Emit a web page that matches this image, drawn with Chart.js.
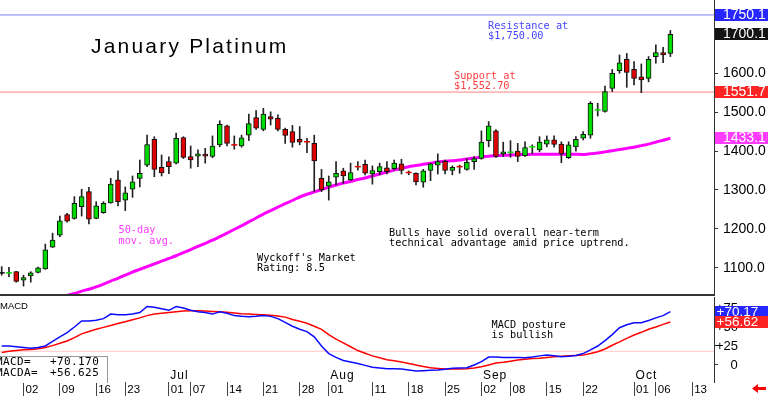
<!DOCTYPE html>
<html>
<head>
<meta charset="utf-8">
<script src="https://cdn.jsdelivr.net/npm/chart.js@4.4.1/dist/chart.umd.min.js"></script>
<style>
  html, body { margin: 0; padding: 0; background: #fff; }
  #wrap { position: relative; width: 768px; height: 396px; overflow: hidden; background: #fff; }
  .pane { position: absolute; left: 0; width: 768px; }
  .title { position: absolute; font-family: "Liberation Sans", Arial, sans-serif; font-size: 21px;
           line-height: 21px; letter-spacing: 2.2px; color: #000; white-space: pre; }
  .note { position: absolute; font-family: "DejaVu Sans Mono", monospace; font-size: 10.25px;
          line-height: 10.6px; color: #000; white-space: pre; }
  .boxtxt { position: absolute; font-family: "DejaVu Sans Mono", monospace; font-size: 11px;
            line-height: 10.7px; letter-spacing: 0.4px; color: #000; white-space: pre; }
</style>
</head>
<body>
<div id="wrap">
  <div class="pane" style="top:0;height:296px"><canvas id="priceChart"></canvas></div>
  <div class="pane" style="top:296px;height:100px"><canvas id="macdChart"></canvas></div>

  <div class="title" style="left:91px;top:35px">January Platinum</div>
  <div class="note" style="left:488px;top:19.5px;color:#4646ff">Resistance at
$1,750.00</div>
  <div class="note" style="left:454px;top:69.5px;color:#ff3c3c">Support at
$1,552.70</div>
  <div class="note" style="left:118.5px;top:224px;color:#ff3cff">50-day
mov. avg.</div>
  <div class="note" style="left:257px;top:251.5px">Wyckoff's Market
Rating: 8.5</div>
  <div class="note" style="left:389px;top:226.5px">Bulls have solid overall near-term
technical advantage amid price uptrend.</div>
  <div class="note" style="left:491.5px;top:318.5px">MACD posture
is bullish</div>

  <div style="position:absolute;left:0;top:300px;font-family:'Liberation Sans',Arial,sans-serif;font-size:9.5px;line-height:11px">MACD</div>
  <div style="position:absolute;left:-1px;top:356px;width:107px;height:26px;border:1px solid #999;border-bottom:none;background:#fff"></div>
  <div class="boxtxt" style="left:-4px;top:357px">MACD=
MACDA=</div>
  <div class="boxtxt" style="left:50px;top:357px">+70.170
+56.625</div>
</div>

<script>
/* ── DATA ─────────────────────────────────────────────── */
// trading days (MM-DD), May 28 .. Oct 16
const dates = [
  "05-28","05-29","05-30",
  "06-02","06-03","06-04","06-05","06-06","06-09","06-10","06-11","06-12","06-13",
  "06-16","06-17","06-18","06-20","06-23","06-24","06-25","06-26","06-27","06-30",
  "07-01","07-02","07-03","07-07","07-08","07-09","07-10","07-11","07-14","07-15",
  "07-16","07-17","07-18","07-21","07-22","07-23","07-24","07-25","07-28","07-29",
  "07-30","07-31",
  "08-01","08-04","08-05","08-06","08-07","08-08","08-11","08-12","08-13","08-14",
  "08-15","08-18","08-19","08-20","08-21","08-22","08-25","08-26","08-27","08-28",
  "08-29",
  "09-02","09-03","09-04","09-05","09-08","09-09","09-10","09-11","09-12","09-15",
  "09-16","09-17","09-18","09-19","09-22","09-23","09-24","09-25","09-26","09-29",
  "09-30",
  "10-01","10-02","10-03","10-06","10-07","10-08","10-09","10-10","10-13","10-14",
  "10-15","10-16"
];

const tickDates  = ["06-02","06-09","06-16","06-23","07-01","07-07","07-14","07-21","07-28",
                    "08-01","08-11","08-18","08-25","09-02","09-08","09-15","09-22",
                    "10-01","10-06","10-13"];
const monthDates = ["07-01","08-01","09-02","10-01"];
const monthNames = ["Jul","Aug","Sep","Oct"];

const open = [1087,1086,1090,1068,1079,1088,1097,1153,1184,1237,
              1227,1257,1296,1227,1242,1267,1326,1274,1302,1330,
              1364,1430,1358,1373,1369,1435,1386,1387,1392,1386,
              1416,1465,1417,1413,1441,1486,1456,1489,1484,1456,
              1450,1431,1425,1420,1330,1310,1333,1349,1326,1361,
              1366,1341,1347,1357,1355,1367,1346,1343,1320,1350,
              1364,1374,1350,1361,1353,1373,1381,1427,1452,1393,
              1396,1400,1388,1410,1403,1418,1429,1418,1383,1411,
              1433,1441,1505,1502,1561,1607,1636,1610,1591,1587,
              1643,1653,1651];
const high = [1103,1101,1091,1081,1090,1102,1161,1189,1233,1240,
              1283,1302,1307,1270,1270,1330,1349,1308,1336,1377,
              1441,1437,1390,1385,1446,1437,1413,1403,1407,1439,
              1478,1467,1439,1441,1495,1504,1510,1501,1493,1459,
              1466,1463,1433,1441,1353,1336,1373,1356,1369,1373,
              1377,1362,1369,1373,1377,1379,1349,1344,1353,1369,
              1393,1377,1362,1364,1381,1386,1452,1476,1455,1423,
              1427,1420,1424,1416,1437,1439,1439,1424,1424,1437,
              1450,1527,1523,1567,1610,1647,1651,1630,1624,1643,
              1673,1667,1710];
const low = [1081,1077,1063,1053,1063,1087,1096,1152,1180,1217,
             1225,1233,1213,1226,1240,1266,1259,1247,1281,1308,
             1360,1334,1336,1342,1367,1381,1356,1360,1369,1383,
             1411,1413,1405,1410,1427,1456,1452,1467,1452,1420,
             1410,1416,1396,1296,1296,1274,1313,1317,1324,1351,
             1339,1315,1339,1341,1351,1341,1339,1313,1307,1324,
             1341,1341,1339,1343,1351,1353,1379,1411,1384,1386,
             1384,1373,1386,1393,1398,1411,1410,1370,1381,1400,
             1429,1433,1490,1500,1553,1600,1564,1570,1550,1578,
             1626,1627,1643];
const close = [1087,1088,1065,1075,1087,1100,1146,1171,1221,1220,
               1266,1283,1225,1259,1266,1315,1270,1293,1321,1343,
               1417,1353,1344,1360,1433,1384,1377,1393,1387,1413,
               1469,1420,1415,1434,1471,1459,1495,1482,1456,1440,
               1422,1423,1423,1375,1300,1321,1343,1336,1345,1359,
               1343,1350,1360,1347,1369,1350,1344,1321,1349,1367,
               1373,1350,1358,1359,1371,1381,1423,1465,1386,1398,
               1398,1386,1409,1412,1423,1429,1417,1393,1416,1430,
               1443,1523,1507,1553,1600,1627,1602,1587,1583,1636,
               1653,1647,1700.1];

// 50-day moving average
const ma50 = [984,989,994,999,1004,1009,1014,1019,1024,1029,
              1034,1040,1045,1051,1058,1066,1073,1081,1089,1096,
              1103,1110,1117,1124,1131,1139,1147,1155,1163,1171,
              1180,1189,1199,1208,1218,1228,1238,1247,1256,1265,
              1273,1282,1289,1295,1301,1307,1313,1318,1322,1327,
              1331,1336,1341,1346,1351,1356,1360,1363,1366,1369,
              1372,1374,1375,1377,1380,1382,1385,1387,1388,1389,
              1390,1391,1391,1392,1392,1392,1392,1392,1392,1392,
              1391,1393,1395,1398,1401,1404,1407,1410,1414,1418,
              1423,1428,1433.1];

const macd = [25,25,24,23,22,23,25,31,37,42.5,
              50,58,58,59,61,67,66,66,67,69,
              77,76,74,72,77,75,72,70,69,67,
              70,68,65,64,63.5,64,65,64,61,56,
              51,47,44,37,25,15,10,6,4,2,
              -0.5,-3,-4,-5,-5,-5.3,-6.5,-8,-7.5,-7,
              -6.5,-5.5,-4.4,-4,-3.5,0,4.5,10.5,10.5,10,
              10,9.8,9.6,10.5,12,13,12,11,11.5,12.5,
              15,20,25,32,40,49,53,55.7,55.7,58.5,
              62,65,70.17];
const macdAvg = [16.5,18,19,20,20.5,21.5,23,25.5,28.5,31.6,
                 36,41,44,47,49.5,52,54.5,57,59.5,62,
                 65,67,68,69,70,71,71.5,71.5,71,70.5,
                 70,69.5,68.5,67.5,67,66.5,66,65.5,64.5,63,
                 60,57.5,55,51,47,40,34,29,24,19,
                 15.5,12,9.5,7,5.5,4,2,0,-2,-3.5,
                 -4.5,-5.3,-5.3,-5.3,-5,-4,-2.2,0,2.5,3.5,
                 5,6.6,7.5,8.5,9,10,11,11.5,12,12.5,
                 13,15,17.5,21,26,30.5,35,39.5,43,47,
                 50,53.5,56.625];

const resistance = 1750;
const support    = 1551.7;
const macdRef    = 18;
const priceTicks = [1100,1200,1300,1400,1500,1600,1700];
const macdTicks  = [0,25,50,75];

const priceBoxes = [
  { v: 1750.1, t: "1750.1", bg: "#2626ff" },
  { v: 1700.1, t: "1700.1", bg: "#141414" },
  { v: 1551.7, t: "1551.7", bg: "#ff2424" },
  { v: 1433.1, t: "1433.1", bg: "#ff3cff" }
];
const macdBoxes = [
  { v: 70.17,  t: "+70.17", bg: "#2626ff" },
  { v: 56.625, t: "+56.62", bg: "#ff2424" }
];

/* ── SETUP ────────────────────────────────────────────── */
const X_MIN = -0.234, X_MAX = 98;
const GREEN = "#00dc00", RED = "#e00000";
const SANS  = "'Liberation Sans', Arial, sans-serif";
Chart.defaults.font.family = SANS;
Chart.defaults.color = "#000";

const idx = close.map((_, i) => i);
const isDoji = i => Math.abs(open[i] - close[i]) <= 2;
const candleColor = i => close[i] > open[i] ? GREEN : close[i] < open[i] ? RED : "#111";

const wickData = idx.map(i => ({ x: i, y: [low[i], high[i]] }));
const bodyIdx  = idx.filter(i => !isDoji(i));
const bodyData = bodyIdx.map(i => ({ x: i, y: [open[i], close[i]] }));
const dojiIdx  = idx.filter(isDoji);
const dojiData = dojiIdx.map(i => ({ x: i, y: (open[i] + close[i]) / 2 }));

function fixY(w) {
  return s => { s.width = w; s.paddingTop = 0; s.paddingBottom = 0; };
}

function drawBoxes(chart, boxes, textX, fontSize) {
  const { ctx, chartArea } = chart;
  const ys = chart.scales.y;
  ctx.save();
  boxes.forEach(b => {
    const y = Math.round(ys.getPixelForValue(b.v));
    ctx.fillStyle = b.bg;
    ctx.fillRect(chartArea.right + 1, y - 6, chart.width - chartArea.right - 1, 12);
    ctx.fillStyle = "#fff";
    ctx.font = `${fontSize}px ${SANS}`;
    ctx.textAlign = "left";
    ctx.textBaseline = "middle";
    ctx.fillText(b.t, textX, y + 0.5);
  });
  ctx.restore();
}

/* ── PRICE CHART ──────────────────────────────────────── */
const pricePlugin = {
  id: "priceExtras",
  afterDraw(chart) {
    const { ctx, chartArea } = chart;
    ctx.save();
    ctx.fillStyle = "#333";
    ctx.fillRect(0, chartArea.bottom - 2, chartArea.right, 2);
    ctx.restore();
    drawBoxes(chart, priceBoxes, 723, 14);
  }
};

new Chart(document.getElementById("priceChart"), {
  type: "bar",
  data: {
    datasets: [
      { type: "bar", data: bodyData, order: 0, grouped: false, barThickness: 5,
        backgroundColor: bodyIdx.map(candleColor), borderColor: "#111",
        borderWidth: 1, borderSkipped: false },
      { type: "line", data: dojiData, order: 1, showLine: false, pointStyle: "line",
        pointRadius: 3, pointBorderWidth: 1.5, pointBorderColor: dojiIdx.map(candleColor) },
      { type: "bar", data: wickData, order: 2, grouped: false, barThickness: 1,
        backgroundColor: "#222", borderWidth: 0 },
      { type: "line", data: idx.map(i => ({ x: i, y: ma50[i] })), order: 3,
        borderColor: "#ff00ff", borderWidth: 3, pointRadius: 0, tension: 0.2 },
      { type: "line", data: [{ x: X_MIN, y: resistance }, { x: X_MAX, y: resistance }], order: 4,
        borderColor: "#8080ff", borderWidth: 1, pointRadius: 0 },
      { type: "line", data: [{ x: X_MIN, y: support }, { x: X_MAX, y: support }], order: 4,
        borderColor: "#ff8080", borderWidth: 1, pointRadius: 0 }
    ]
  },
  options: {
    responsive: true, maintainAspectRatio: false, animation: false,
    layout: { padding: 0, autoPadding: false },
    plugins: { legend: { display: false }, tooltip: { enabled: false } },
    scales: {
      x: { type: "linear", min: X_MIN, max: X_MAX, offset: false, display: false },
      y: {
        position: "right", min: 1027.5, max: 1788.4,
        afterBuildTicks: s => { s.ticks = priceTicks.map(v => ({ value: v })); },
        afterFit: fixY(54),
        ticks: { callback: v => v.toFixed(1), font: { size: 14 }, padding: 5, color: "#000" },
        grid: { drawOnChartArea: false, tickLength: 4, color: "#333" },
        border: { color: "#333", width: 1 }
      }
    }
  },
  plugins: [pricePlugin]
});

/* ── MACD CHART ───────────────────────────────────────── */
const macdPlugin = {
  id: "macdExtras",
  afterDraw(chart) {
    const { ctx, chartArea } = chart;
    const xs = chart.scales.x;
    ctx.save();
    ctx.font = `12px ${SANS}`;
    ctx.letterSpacing = "1px";
    ctx.fillStyle = "#000";
    ctx.textBaseline = "alphabetic";
    monthDates.forEach((d, k) => {
      ctx.fillText(monthNames[k], xs.getPixelForValue(dates.indexOf(d)) + 1.5, chartArea.bottom - 3);
    });
    ctx.letterSpacing = "0px";
    // little red arrow, bottom right
    ctx.fillStyle = "#ff0000";
    ctx.translate(0, -296);
    ctx.beginPath();
    ctx.moveTo(752, 388.5);
    ctx.lineTo(758, 384);
    ctx.lineTo(758, 387);
    ctx.lineTo(766, 387);
    ctx.lineTo(766, 390);
    ctx.lineTo(758, 390);
    ctx.lineTo(758, 393);
    ctx.closePath();
    ctx.fill();
    ctx.restore();
    drawBoxes(chart, macdBoxes, 716.5, 13.5);
  }
};

new Chart(document.getElementById("macdChart"), {
  type: "line",
  data: {
    datasets: [
      { data: idx.map(i => ({ x: i, y: macd[i] })), borderColor: "#0a0aff",
        borderWidth: 1.5, pointRadius: 0, order: 0 },
      { data: idx.map(i => ({ x: i, y: macdAvg[i] })), borderColor: "#ff0000",
        borderWidth: 1.5, pointRadius: 0, order: 1 },
      { data: [{ x: X_MIN, y: macdRef }, { x: X_MAX, y: macdRef }], borderColor: "#ffc8c8",
        borderWidth: 1, pointRadius: 0, order: 2 }
    ]
  },
  options: {
    responsive: true, maintainAspectRatio: false, animation: false,
    layout: { padding: { top: 1, left: 0, right: 0, bottom: 0 }, autoPadding: false },
    plugins: { legend: { display: false }, tooltip: { enabled: false } },
    scales: {
      x: {
        type: "linear", min: X_MIN, max: X_MAX, offset: false,
        afterBuildTicks: s => { s.ticks = tickDates.map(d => ({ value: dates.indexOf(d) })); },
        afterFit: s => { s.height = 14; s.paddingLeft = 0; s.paddingRight = 0; },
        ticks: { autoSkip: false, maxRotation: 0, align: "start", labelOffset: 2, padding: -13.5,
                 callback: v => dates[v].slice(3), font: { size: 11.5 }, color: "#000" },
        grid: { drawOnChartArea: false, drawTicks: true, tickLength: 14, color: "#444" },
        border: { display: false }
      },
      y: {
        position: "right", min: -22.4, max: 89.5,
        afterBuildTicks: s => { s.ticks = macdTicks.map(v => ({ value: v })); },
        afterFit: fixY(54),
        ticks: { callback: v => v === 0 ? "\u2007\u20070" : "+" + v, font: { size: 13 },
                 padding: -2, color: "#000" },
        grid: { drawOnChartArea: false, tickLength: 4, color: "#333" },
        border: { color: "#333", width: 1 }
      }
    }
  },
  plugins: [macdPlugin]
});
</script>
</body>
</html>
